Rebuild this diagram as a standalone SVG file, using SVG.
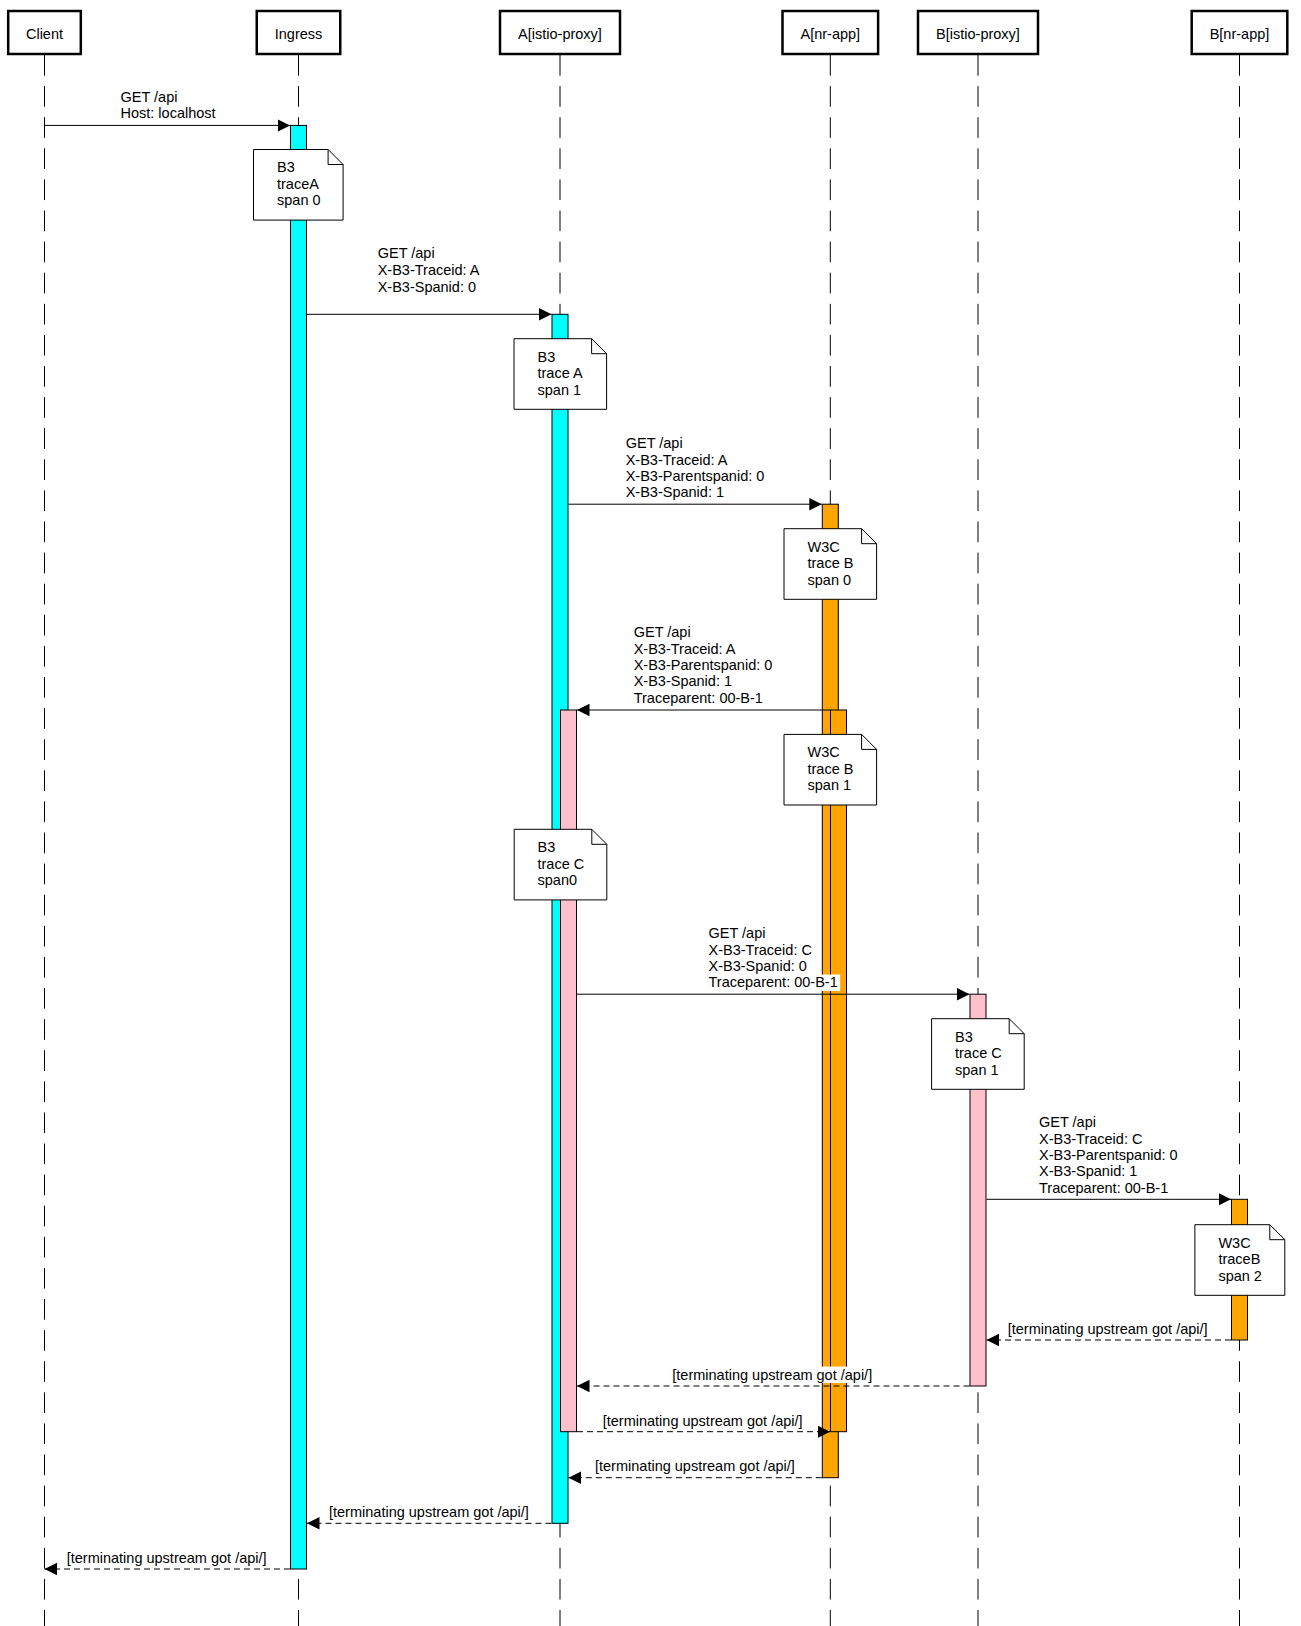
<svg xmlns="http://www.w3.org/2000/svg" width="1301" height="1626" viewBox="0 0 1301 1626">
<style>
text{font-family:"Liberation Sans",Arial,Helvetica,sans-serif;font-size:14.5px;fill:#000}
.actor rect{fill:#fff;stroke:#000;stroke-width:2.5}
.actor text{text-anchor:middle}
.life{stroke:#000;stroke-width:1;stroke-dasharray:20.7 10.4;fill:none}
.act{stroke:#000;stroke-width:1}
.cyan{fill:#00ffff}
.pink{fill:#ffc0cb}
.orange{fill:#ffa500}
.note path{fill:#fff;stroke:#000;stroke-width:1}
.note path.fold{fill:none}
.msg{stroke:#000;stroke-width:1;fill:none;marker-end:url(#arr)}
.dash{stroke-dasharray:6 4}
.lbg{fill:#fff;stroke:none}
</style>
<defs>
<marker id="arr" markerUnits="userSpaceOnUse" markerWidth="13" markerHeight="13" refX="12.5" refY="6.25" orient="auto">
<path d="M0,0 L12.5,6.25 L0,12.5 Z" fill="#000"/>
</marker>
</defs>
<rect width="1301" height="1626" fill="#fff"/>
<g id="lifelines">
<line class="life" x1="44.5" y1="55" x2="44.5" y2="1626"/>
<line class="life" x1="298.5" y1="55" x2="298.5" y2="1626"/>
<line class="life" x1="560" y1="55" x2="560" y2="1626"/>
<line class="life" x1="830.3" y1="55" x2="830.3" y2="1626"/>
<line class="life" x1="978" y1="55" x2="978" y2="1626"/>
<line class="life" x1="1239.5" y1="55" x2="1239.5" y2="1626"/>
</g>
<g id="actor-client" class="actor"><rect x="8.2" y="11" width="72.6" height="43"/><text x="44.5" y="38.5">Client</text></g>
<g id="actor-ingress" class="actor"><rect x="256.75" y="11" width="83.5" height="43"/><text x="298.5" y="38.5">Ingress</text></g>
<g id="actor-a-istio" class="actor"><rect x="500" y="11" width="120" height="43"/><text x="560" y="38.5">A[istio-proxy]</text></g>
<g id="actor-a-nr" class="actor"><rect x="782.5" y="11" width="95.6" height="43"/><text x="830.3" y="38.5">A[nr-app]</text></g>
<g id="actor-b-istio" class="actor"><rect x="918" y="11" width="120" height="43"/><text x="978" y="38.5">B[istio-proxy]</text></g>
<g id="actor-b-nr" class="actor"><rect x="1191.7" y="11" width="95.6" height="43"/><text x="1239.5" y="38.5">B[nr-app]</text></g>
<g id="activation-ingress"><rect class="act cyan" x="290.5" y="125.4" width="16" height="1443.6"/></g>
<g id="activation-a-istio-1"><rect class="act cyan" x="552" y="314.3" width="16" height="1209"/></g>
<g id="activation-a-istio-2"><rect class="act pink" x="560.5" y="710" width="16" height="721.7"/></g>
<g id="activation-a-nr-1"><rect class="act orange" x="822.3" y="504.2" width="16" height="973.5"/></g>
<g id="activation-a-nr-2"><rect class="act orange" x="830.5" y="710" width="16" height="721.7"/></g>
<g id="activation-b-istio"><rect class="act pink" x="970" y="994.2" width="16" height="391.8"/></g>
<g id="activation-b-nr"><rect class="act orange" x="1231.5" y="1199.3" width="16" height="140.7"/></g>
<g id="note-1" class="note"><path d="M253.5,149.5 H328.1 L343.1,164.5 V220.1 H253.5 Z"/><path class="fold" d="M328.1,149.5 V164.5 H343.1"/><text x="277" y="172.3">B3</text><text x="277" y="188.8">traceA</text><text x="277" y="205.3">span 0</text></g>
<g id="note-2" class="note"><path d="M514,338.7 H591.6 L606.6,353.7 V409.3 H514 Z"/><path class="fold" d="M591.6,338.7 V353.7 H606.6"/><text x="537.5" y="361.5">B3</text><text x="537.5" y="378">trace A</text><text x="537.5" y="394.5">span 1</text></g>
<g id="note-3" class="note"><path d="M784,528.7 H861.6 L876.6,543.7 V599.3 H784 Z"/><path class="fold" d="M861.6,528.7 V543.7 H876.6"/><text x="807.5" y="551.5">W3C</text><text x="807.5" y="568">trace B</text><text x="807.5" y="584.5">span 0</text></g>
<g id="note-4" class="note"><path d="M784,734.4 H861.6 L876.6,749.4 V805 H784 Z"/><path class="fold" d="M861.6,734.4 V749.4 H876.6"/><text x="807.5" y="757.2">W3C</text><text x="807.5" y="773.7">trace B</text><text x="807.5" y="790.2">span 1</text></g>
<g id="note-5" class="note"><path d="M514.2,829.3 H591.8 L606.8,844.3 V899.9 H514.2 Z"/><path class="fold" d="M591.8,829.3 V844.3 H606.8"/><text x="537.5" y="852.1">B3</text><text x="537.5" y="868.6">trace C</text><text x="537.5" y="885.1">span0</text></g>
<g id="note-6" class="note"><path d="M931.6,1018.7 H1009.2 L1024.2,1033.7 V1089.3 H931.6 Z"/><path class="fold" d="M1009.2,1018.7 V1033.7 H1024.2"/><text x="955" y="1041.5">B3</text><text x="955" y="1058">trace C</text><text x="955" y="1074.5">span 1</text></g>
<g id="note-7" class="note"><path d="M1194.9,1224.7 H1269.8 L1284.8,1239.7 V1295.3 H1194.9 Z"/><path class="fold" d="M1269.8,1224.7 V1239.7 H1284.8"/><text x="1218.4" y="1247.5">W3C</text><text x="1218.4" y="1264">traceB</text><text x="1218.4" y="1280.5">span 2</text></g>
<g id="connectors">
<line class="msg" x1="44.5" y1="125.4" x2="290" y2="125.4"/>
<line class="msg" x1="307" y1="314.3" x2="551.5" y2="314.3"/>
<line class="msg" x1="568.5" y1="504.2" x2="821.8" y2="504.2"/>
<line class="msg" x1="830.3" y1="710" x2="577" y2="710"/>
<line class="msg" x1="577" y1="994.2" x2="969.5" y2="994.2"/>
<line class="msg" x1="986.5" y1="1199.3" x2="1231" y2="1199.3"/>
<line class="msg dash" x1="1231" y1="1340" x2="986.5" y2="1340"/>
<line class="msg dash" x1="969.5" y1="1386" x2="577" y2="1386"/>
<line class="msg dash" x1="577" y1="1431.7" x2="830" y2="1431.7"/>
<line class="msg dash" x1="821.8" y1="1477.7" x2="568.5" y2="1477.7"/>
<line class="msg dash" x1="551.5" y1="1523.3" x2="307" y2="1523.3"/>
<line class="msg dash" x1="290" y1="1569" x2="44.5" y2="1569"/>
<g id="labels">
<text x="120.5" y="101.7">GET /api</text>
<text x="120.5" y="118.3">Host: localhost</text>
<text x="377.7" y="258.3">GET /api</text>
<text x="377.7" y="275">X-B3-Traceid: A</text>
<text x="377.7" y="291.7">X-B3-Spanid: 0</text>
<text x="625.7" y="448.3">GET /api</text>
<text x="625.7" y="464.5">X-B3-Traceid: A</text>
<text x="625.7" y="480.7">X-B3-Parentspanid: 0</text>
<text x="625.7" y="496.9">X-B3-Spanid: 1</text>
<text x="633.7" y="637.3">GET /api</text>
<text x="633.7" y="653.6">X-B3-Traceid: A</text>
<text x="633.7" y="669.9">X-B3-Parentspanid: 0</text>
<text x="633.7" y="686.2">X-B3-Spanid: 1</text>
<text x="633.7" y="702.5">Traceparent: 00-B-1</text>
<text x="708.5" y="938.3">GET /api</text>
<text x="708.5" y="954.6">X-B3-Traceid: C</text>
<text x="708.5" y="970.9">X-B3-Spanid: 0</text>
<rect class="lbg" x="706.5" y="974.5" width="133.7" height="16.5"/>
<text x="708.5" y="987.3">Traceparent: 00-B-1</text>
<text x="1039" y="1127.3">GET /api</text>
<text x="1039" y="1143.6">X-B3-Traceid: C</text>
<text x="1039" y="1159.9">X-B3-Parentspanid: 0</text>
<text x="1039" y="1176.2">X-B3-Spanid: 1</text>
<text x="1039" y="1192.5">Traceparent: 00-B-1</text>
<text x="1007.7" y="1333.5">[terminating upstream got /api/]</text>
<rect class="lbg" x="670.3" y="1366.5" width="204" height="16.5"/>
<text x="672.3" y="1379.8">[terminating upstream got /api/]</text>
<text x="602.7" y="1425.5">[terminating upstream got /api/]</text>
<text x="595" y="1471.3">[terminating upstream got /api/]</text>
<text x="329" y="1517">[terminating upstream got /api/]</text>
<text x="66.7" y="1562.7">[terminating upstream got /api/]</text>
</g>
</g>
</svg>
